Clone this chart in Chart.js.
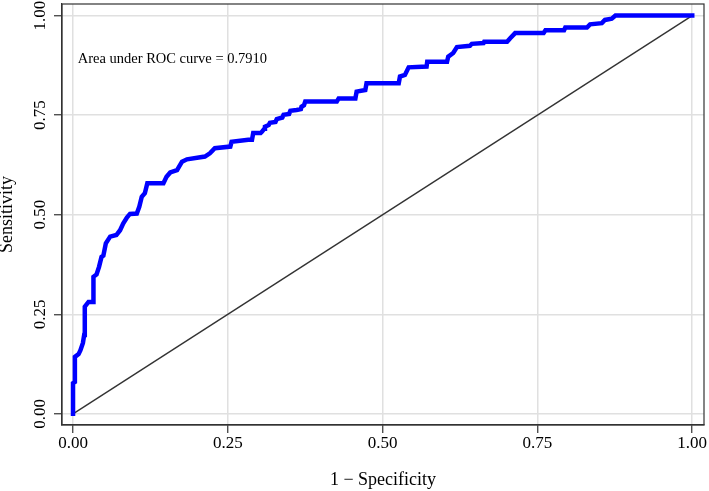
<!DOCTYPE html>
<html lang="en">
    <head>
        <meta charset="utf-8" />
        <script src="https://cdn.jsdelivr.net/npm/chart.js@4.4.1/dist/chart.umd.min.js"></script>
        <title>ROC curve</title>
        <style>
            body { margin: 0; background: #fff; }
            canvas { display: block; }
        </style>
    </head>
    <body>
        <canvas id="roc" width="709" height="491"></canvas>
        <script>
            // ROC curve vertices
            var fpr  = [0, 0, 0.003, 0.003, 0.009, 0.012, 0.016, 0.018, 0.019, 0.025, 0.033, 0.033, 0.038, 0.042, 0.046, 0.049, 0.053, 0.06, 0.07, 0.076,
                        0.081, 0.087, 0.092, 0.103, 0.107, 0.111, 0.116, 0.12, 0.146, 0.151, 0.157, 0.168, 0.176, 0.184, 0.213, 0.221, 0.229, 0.254, 0.256, 0.283,
                        0.289, 0.291, 0.303, 0.305, 0.309, 0.31, 0.316, 0.318, 0.327, 0.329, 0.338, 0.34, 0.349, 0.351, 0.361, 0.368, 0.369, 0.373, 0.375,
                        0.426, 0.429, 0.456, 0.458, 0.472, 0.474, 0.526, 0.528, 0.536, 0.542,
                        0.571, 0.572, 0.604, 0.606, 0.614, 0.62, 0.641, 0.644, 0.663, 0.664, 0.701, 0.706, 0.714, 0.76, 0.763, 0.793, 0.795, 0.83, 0.835, 0.854,
                        0.859, 0.87, 0.876, 1];
            var sens = [0, 0.077, 0.08, 0.143, 0.15, 0.16, 0.178, 0.198, 0.269, 0.281, 0.281, 0.344, 0.35, 0.369, 0.394, 0.397, 0.428, 0.445, 0.449, 0.461,
                        0.478, 0.493, 0.502, 0.503, 0.52, 0.545, 0.554, 0.579, 0.579, 0.595, 0.606, 0.612, 0.633, 0.639, 0.646, 0.654, 0.667, 0.671, 0.683, 0.688,
                        0.688, 0.705, 0.705, 0.708, 0.716, 0.721, 0.725, 0.731, 0.733, 0.74, 0.744, 0.751, 0.753, 0.761, 0.763, 0.765, 0.771, 0.775, 0.784,
                        0.784, 0.792, 0.792, 0.809, 0.813, 0.83, 0.83, 0.847, 0.851, 0.87,
                        0.872, 0.884, 0.884, 0.897, 0.906, 0.921, 0.924, 0.929, 0.931, 0.934, 0.934, 0.943, 0.956, 0.956, 0.963, 0.963, 0.97, 0.97, 0.978, 0.981,
                        0.989, 0.992, 1, 1];
            // reference line
            var diagX = [0, 1];
            var diagY = [0, 1];
            var tickVals = [0, 0.25, 0.5, 0.75, 1];
            var tickLabels = ["0.00", "0.25", "0.50", "0.75", "1.00"];
            var aucText = "Area under ROC curve = 0.7910";

            var serif = "'Liberation Serif', 'Times New Roman', serif";

            function puntos(xs, ys) {
                return xs.map(function (x, i) { return {x: x, y: ys[i]}; });
            }
            function fijarTicks(scale) {
                scale.ticks = tickVals.map(function (v) { return {value: v}; });
            }

            // frame, rotated y labels and the AUC note
            var extras = {
                id: "extras",
                beforeDraw: function (chart) {
                    var ctx = chart.ctx;
                    ctx.save();
                    ctx.fillStyle = "#fff";
                    ctx.fillRect(0, 0, chart.width, chart.height);
                    ctx.restore();
                },
                afterDraw: function (chart) {
                    var ctx = chart.ctx, a = chart.chartArea;
                    var xs = chart.scales.x, ys = chart.scales.y;
                    ctx.save();
                    ctx.strokeStyle = "#333";
                    ctx.lineWidth = 1.2;
                    ctx.strokeRect(a.left, a.top, a.right - a.left, a.bottom - a.top);

                    ctx.fillStyle = "#000";
                    ctx.font = "17px " + serif;
                    ctx.textAlign = "center";
                    ctx.textBaseline = "alphabetic";
                    tickVals.forEach(function (v, i) {
                        ctx.save();
                        ctx.translate(44.5, ys.getPixelForValue(v));
                        ctx.rotate(-Math.PI / 2);
                        ctx.fillText(tickLabels[i], 0, 0);
                        ctx.restore();
                    });

                    ctx.font = "14.5px " + serif;
                    ctx.textAlign = "left";
                    ctx.fillText(aucText, xs.getPixelForValue(0.0076), ys.getPixelForValue(0.88));
                    ctx.restore();
                }
            };

            new Chart(document.getElementById("roc").getContext("2d"), {
                type: "scatter",
                data: {
                    datasets: [
                        {label: "ROC", data: puntos(fpr, sens), showLine: true, borderColor: "#0000ff", backgroundColor: "#0000ff",
                         borderWidth: 4.5, pointRadius: 0, borderJoinStyle: "miter", borderCapStyle: "square", order: 1},
                        {label: "Reference", data: puntos(diagX, diagY), showLine: true, borderColor: "#333", borderWidth: 1.4,
                         pointRadius: 0, order: 2}
                    ]
                },
                options: {
                    responsive: false,
                    animation: false,
                    layout: {padding: {top: 4, right: 5, left: 0, bottom: 0}},
                    plugins: {legend: {display: false}, tooltip: {enabled: false}},
                    scales: {
                        x: {
                            type: "linear",
                            min: -0.0178,
                            max: 1.019,
                            afterBuildTicks: fijarTicks,
                            afterFit: function (s) { s.height = 66; s.paddingLeft = 0; s.paddingRight = 0; },
                            grid: {color: "#e0e0e0", lineWidth: 1.5, tickColor: "#333", tickLength: 8, tickWidth: 1.2},
                            border: {color: "#333", width: 1.2},
                            ticks: {
                                padding: 0,
                                color: "#000",
                                font: {family: serif, size: 17},
                                callback: function (v) { return tickLabels[tickVals.indexOf(v)]; }
                            },
                            title: {display: true, text: "1 \u2212 Specificity", color: "#000", padding: {top: 0, bottom: 0},
                                    font: {family: serif, size: 18, lineHeight: 1.15}}
                        },
                        y: {
                            type: "linear",
                            min: -0.028,
                            max: 1.029,
                            afterBuildTicks: fijarTicks,
                            afterFit: function (s) { s.width = 62; s.paddingTop = 0; s.paddingBottom = 0; },
                            grid: {color: "#e0e0e0", lineWidth: 1.5, tickColor: "#333", tickLength: 8, tickWidth: 1.2},
                            border: {color: "#333", width: 1.2},
                            ticks: {display: false},
                            title: {display: true, text: "Sensitivity", color: "#000", padding: {top: 0, bottom: 0},
                                    font: {family: serif, size: 18, lineHeight: 0.8}}
                        }
                    }
                },
                plugins: [extras]
            });
        </script>
    </body>
</html>
